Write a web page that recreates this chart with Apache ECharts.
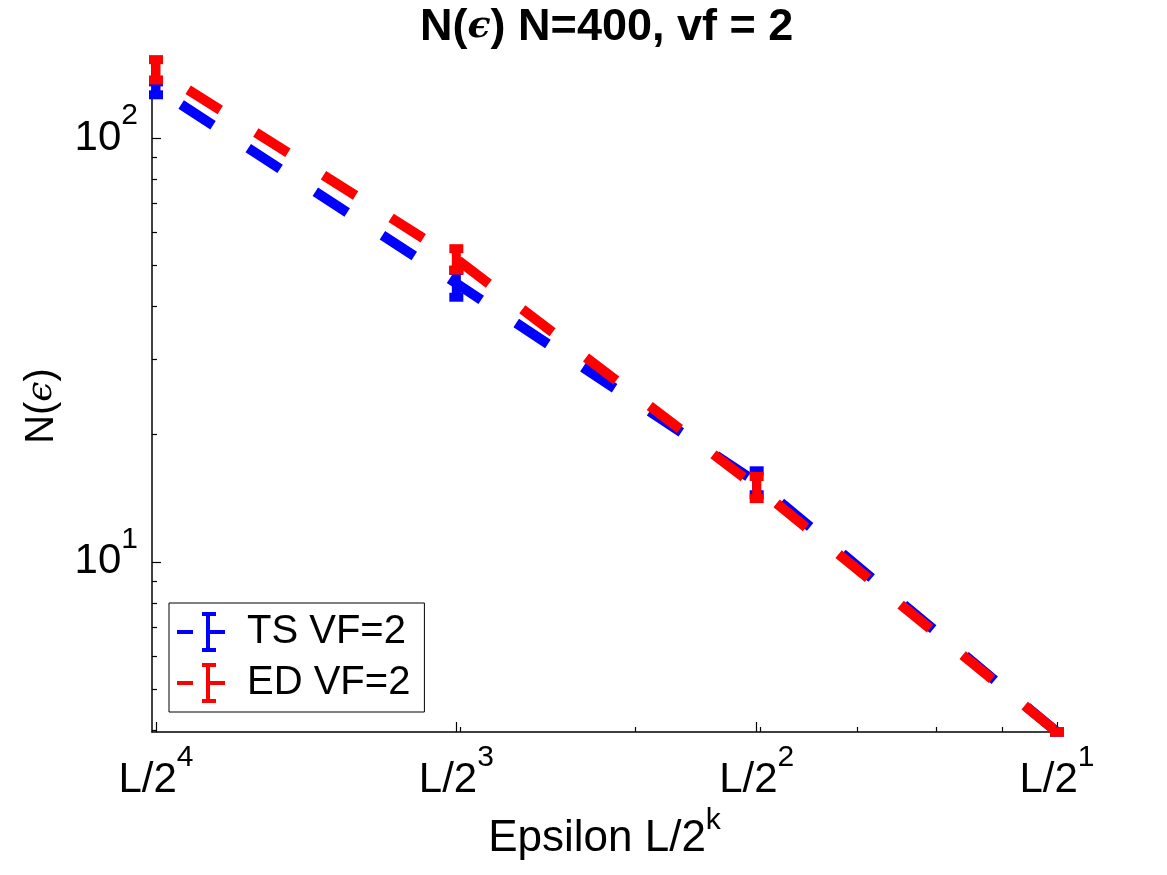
<!DOCTYPE html>
<html lang="en">
<head>
    <meta charset="utf-8">
    <title>N(ϵ) N=400, vf = 2</title>
    <script src="https://cdn.jsdelivr.net/npm/echarts@6/dist/echarts.min.js"></script>
    <style>html, body {margin: 0; padding: 0; background: #fff;}</style>
</head>
<body>
<div id="main" style="width: 1167px;height: 875px;"></div>
<script type="application/javascript">
    // box side, eps = L/2^k
    var L = 1.5874;
    var epsValues = [L / 16, L / 8, L / 4, L / 2];
    var tsMean = [131, 45.4, 15.4, 3.97];
    var tsErr = [4.6, 3.3, 1.0, 0];
    var edMean = [145, 51.8, 15.0, 3.97];
    var edErr = [8, 3, 0.9, 0];
    var yMajorTicks = [10, 100];
    var yMinorTicks = [4, 5, 6, 7, 8, 9, 20, 30, 40, 50, 60, 70, 80, 90];
    var xMinorTicks = [0.2, 0.3, 0.4, 0.5, 0.6, 0.7];

    var FONT = '"Liberation Sans", Helvetica, Arial, sans-serif';
    var legendIcon = 'path://M0 18H16V22H0Z M25 0H39V4H33V18H48V22H33V36H39V40H25V36H29V4H25Z';

    function pairs(xs, ys) {
        return xs.map(function (x, i) { return [x, ys[i]]; });
    }
    function errRows(xs, m, e) {
        return xs.map(function (x, i) { return [x, m[i] - e[i], m[i] + e[i]]; });
    }
    function renderErr(params, api) {
        var x = api.value(0);
        var lo = api.coord([x, api.value(1)]);
        var hi = api.coord([x, api.value(2)]);
        var c = api.visual('color');
        return {
            type: 'group',
            children: [
                {type: 'line', shape: {x1: lo[0], y1: lo[1], x2: hi[0], y2: hi[1]},
                    style: {stroke: c, lineWidth: 9}},
                {type: 'rect', shape: {x: hi[0] - 7, y: hi[1] - 4.5, width: 14, height: 9}, style: {fill: c}},
                {type: 'rect', shape: {x: lo[0] - 7, y: lo[1] - 4.5, width: 14, height: 9}, style: {fill: c}}
            ]
        };
    }

    var rich = {
        b: {fontSize: 42, fontFamily: FONT, color: '#000'},
        s: {fontSize: 30, fontFamily: FONT, color: '#000', padding: [0, 0, 44, 0]}
    };

    var chart = echarts.init(document.getElementById('main'));
    var option = {
        animation: false,
        title: {
            text: '{t|N(}{e|ϵ}{t|) N=400, vf = 2}',
            left: 415,
            top: 0,
            textStyle: {
                rich: {
                    t: {fontSize: 45, fontWeight: 'bold', fontFamily: FONT, color: '#000'},
                    e: {fontSize: 38, fontStyle: 'italic', fontFamily: '"DejaVu Serif", serif', color: '#000'}
                }
            }
        },
        grid: {left: 152, right: 110, top: 60, bottom: 143},
        legend: {
            orient: 'vertical',
            left: 169,
            top: 603,
            padding: [9, 14, 9, 8],
            itemGap: 11,
            itemWidth: 48,
            itemHeight: 40,
            backgroundColor: '#fff',
            borderColor: '#000',
            borderWidth: 1,
            borderRadius: 0,
            itemStyle: {borderWidth: 0},
            textStyle: {fontSize: 40, fontFamily: FONT, color: '#000', padding: [0, 0, 0, 17]},
            data: [
                {name: 'TS VF=2', icon: legendIcon},
                {name: 'ED VF=2', icon: legendIcon}
            ]
        },
        xAxis: [{
            type: 'log',
            min: L / 16 * 0.9908,
            max: L / 2,
            name: '{b|Epsilon L/2}{s|k}',
            nameLocation: 'middle',
            nameGap: 70,
            nameTextStyle: {
                rich: {
                    b: {fontSize: 44, fontFamily: FONT, color: '#000'},
                    s: {fontSize: 30, fontFamily: FONT, color: '#000', padding: [0, 0, 36, 0]}
                }
            },
            axisLine: {lineStyle: {color: '#000', width: 1.5}},
            axisTick: {inside: true, length: 10, customValues: epsValues, lineStyle: {color: '#000', width: 1.2}},
            axisLabel: {
                customValues: epsValues,
                margin: 11,
                formatter: function (v) {
                    var k = Math.round(-Math.log(v / L) / Math.LN2);
                    return '{b|L/2}{s|' + k + '}';
                },
                rich: rich
            },
            splitLine: {show: false},
            minorTick: {show: false}
        }, {
            type: 'log',
            min: L / 16 * 0.9908,
            max: L / 2,
            position: 'bottom',
            axisLine: {show: false},
            axisTick: {inside: true, length: 5, customValues: xMinorTicks, lineStyle: {color: '#000', width: 1.2}},
            axisLabel: {show: false},
            splitLine: {show: false}
        }],
        yAxis: [{
            type: 'log',
            min: 3.97,
            max: 152.7,
            name: '{b|N(}{e|ϵ}{b|)}',
            nameLocation: 'middle',
            nameGap: 90,
            nameRotate: 90,
            nameTextStyle: {
                padding: [0, 20, 0, 0],
                rich: {
                    b: {fontSize: 40, fontFamily: FONT, color: '#000'},
                    e: {fontSize: 36, fontStyle: 'italic', fontFamily: '"DejaVu Serif", serif', color: '#000'}
                }
            },
            axisLine: {lineStyle: {color: '#000', width: 1.5}},
            axisTick: {inside: true, length: 9, customValues: yMajorTicks, lineStyle: {color: '#000', width: 1.2}},
            axisLabel: {
                customValues: yMajorTicks,
                margin: 14,
                formatter: function (v) {
                    return '{b|10}{s|' + Math.round(Math.log(v) / Math.LN10) + '}';
                },
                rich: rich
            },
            splitLine: {show: false}
        }, {
            type: 'log',
            min: 3.97,
            max: 152.7,
            position: 'left',
            axisLine: {show: false},
            axisTick: {inside: true, length: 5, customValues: yMinorTicks, lineStyle: {color: '#000', width: 1.2}},
            axisLabel: {show: false},
            splitLine: {show: false}
        }],
        series: [{
            name: 'TS VF=2',
            type: 'line',
            data: pairs(epsValues, tsMean),
            symbol: 'none',
            clip: false,
            z: 2,
            color: '#0000ff',
            lineStyle: {color: '#0000ff', width: 10, type: [38, 42], dashOffset: 50, cap: 'butt'}
        }, {
            name: 'TS VF=2',
            type: 'custom',
            data: errRows(epsValues, tsMean, tsErr),
            renderItem: renderErr,
            clip: false,
            z: 3,
            itemStyle: {color: '#0000ff'}
        }, {
            name: 'ED VF=2',
            type: 'line',
            data: pairs(epsValues, edMean),
            symbol: 'none',
            clip: false,
            z: 4,
            color: '#ff0000',
            lineStyle: {color: '#ff0000', width: 10, type: [38, 42], dashOffset: 42, cap: 'butt'}
        }, {
            name: 'ED VF=2',
            type: 'custom',
            data: errRows(epsValues, edMean, edErr),
            renderItem: renderErr,
            clip: false,
            z: 5,
            itemStyle: {color: '#ff0000'}
        }]
    };
    chart.setOption(option);
</script>
</body>
</html>
